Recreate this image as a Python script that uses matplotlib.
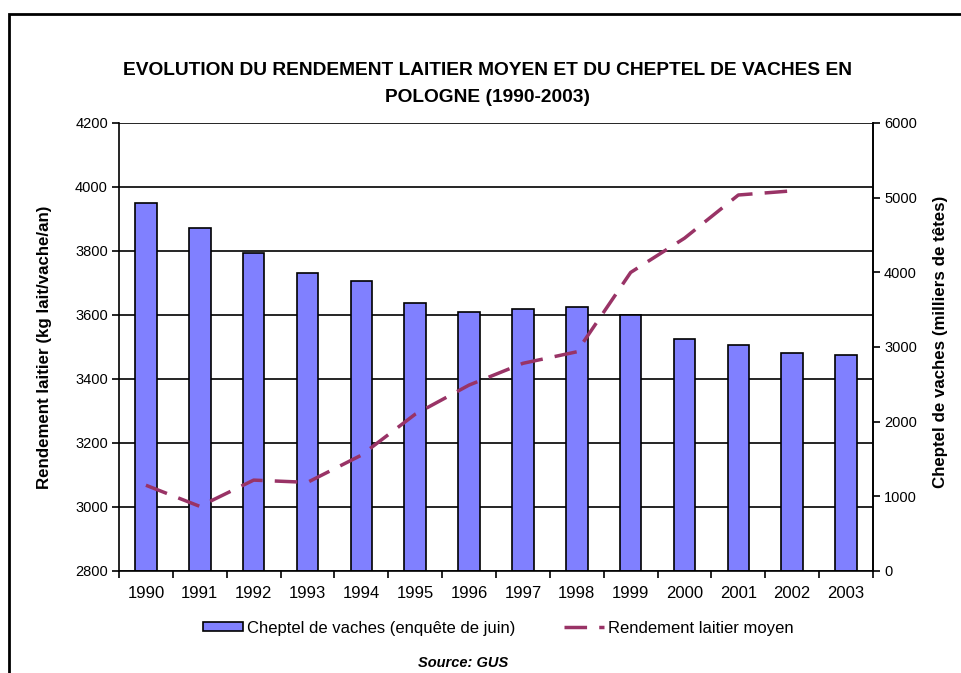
import matplotlib
matplotlib.use("Agg")
import matplotlib.pyplot as plt
from matplotlib.lines import Line2D
from matplotlib.patches import Rectangle
import numpy as np

plt.rcParams['font.family'] = ['Liberation Sans', 'DejaVu Sans']

years = ['1990', '1991', '1992', '1993', '1994', '1995', '1996',
         '1997', '1998', '1999', '2000', '2001', '2002', '2003']
cheptel = [4930, 4590, 4263, 3995, 3888, 3593, 3464,
           3513, 3540, 3433, 3111, 3031, 2924, 2897]
rendement = [3068, 3002, 3084, 3077, 3162, 3290, 3381,
             3449, 3485, 3733, 3840, 3975, 3988, np.nan]

W, H = 962, 673
fig = plt.figure(figsize=(W / 100, H / 100), dpi=100)

# frame
fig.patches.append(Rectangle((9 / W, -0.1), 2.0, 1 - 14 / H + 0.1,
                             transform=fig.transFigure, fill=False,
                             edgecolor='black', linewidth=2))

ax_l, ax_r, ax_t, ax_b = 119, 873, 123, 571
ax = fig.add_axes([ax_l / W, 1 - ax_b / H, (ax_r - ax_l) / W, (ax_b - ax_t) / H])
ax2 = ax.twinx()

x = np.arange(len(years))

ax2.bar(x, cheptel, width=0.4, color='#8080FF', edgecolor='black',
        linewidth=1.2, zorder=2)
ax2.set_ylim(0, 6000)
ax2.set_yticks(np.arange(0, 6001, 1000))

ax.set_ylim(2800, 4200)
ax.set_yticks(np.arange(2800, 4201, 200))
ax.set_xlim(-0.5, len(years) - 0.5)

ax.set_zorder(ax2.get_zorder() + 1)
ax.patch.set_visible(False)
ax2.patch.set_visible(True)
ax2.patch.set_facecolor('white')

for v in np.arange(2800, 4201, 200):
    frac = (v - 2800) / 1400
    ax2.axhline(frac * 6000, color='black', linewidth=1.2, zorder=1)

ax.plot(x, rendement, color='#993366', linewidth=2.5,
        dashes=(6.5, 3.5), solid_capstyle='butt', dash_capstyle='butt', zorder=3)

ax.set_xticks(x)
ax.set_xticklabels(years)
ax.set_xticks(np.arange(-0.5, len(years), 1), minor=True)
ax.tick_params(axis='x', which='major', length=0, pad=11, labelsize=12)
ax.tick_params(axis='x', which='minor', length=5, width=1.2, direction='out')
ax.tick_params(axis='y', length=5, width=1.2, direction='out', labelsize=10.5, pad=3)
ax2.tick_params(axis='y', length=5, width=1.2, direction='out', labelsize=10.5, pad=3)

for a in (ax, ax2):
    for s in a.spines.values():
        s.set_linewidth(1.2)
    a.spines['top'].set_visible(False)
ax2.spines['left'].set_visible(False)
ax2.spines['bottom'].set_visible(False)

fig.text(45 / W, 1 - 347 / H, 'Rendement laitier (kg lait/vache/an)', rotation=90,
         ha='center', va='center', fontsize=12.2, fontweight='bold')
fig.text(941 / W, 1 - 342 / H, 'Cheptel de vaches (milliers de têtes)', rotation=90,
         ha='center', va='center', fontsize=12.2, fontweight='bold')

fig.text(488 / W, 1 - 84 / H,
         'EVOLUTION DU RENDEMENT LAITIER MOYEN ET DU CHEPTEL DE VACHES EN\nPOLOGNE (1990-2003)',
         ha='center', va='center', fontsize=13.8, fontweight='bold', linespacing=1.7)

handles = [Rectangle((0, 0), 1, 1, facecolor='#8080FF', edgecolor='black', linewidth=1.2),
           Line2D([0], [0], color='#993366', linewidth=2.5, dashes=(6.5, 3.5))]
fig.legend(handles, ['Cheptel de vaches (enquête de juin)', 'Rendement laitier moyen'],
           loc='center', bbox_to_anchor=(498.5 / W, 1 - 628 / H), ncol=2, frameon=False,
           fontsize=12, handlelength=2.4, handleheight=0.5, columnspacing=2.9,
           handletextpad=0.25)

fig.text(463 / W, 1 - 663 / H, 'Source: GUS', ha='center', va='center',
         fontsize=10.5, fontweight='bold', style='italic')

fig.savefig('out.png', dpi=100)
